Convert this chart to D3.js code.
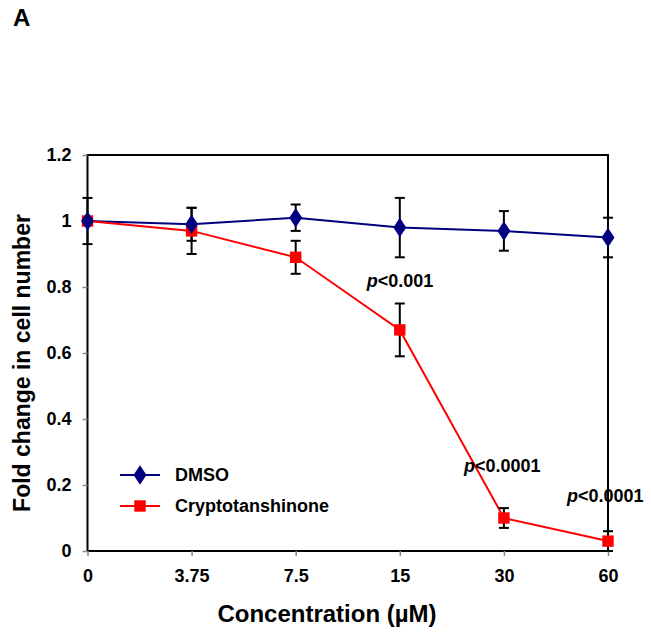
<!DOCTYPE html>
<html><head><meta charset="utf-8">
<script src="https://cdn.jsdelivr.net/npm/d3@7"></script>
<style>body{margin:0;background:#fff}svg{display:block}text{font-family:Arial,"Liberation Sans",sans-serif;font-weight:bold}</style>
</head><body><div id="c"></div>
<script>
const categories = ["0","3.75","7.5","15","30","60"];
const dmsoValues = [1.00,0.99,1.01,0.98,0.97,0.95];
const dmsoErrors = [0.07,0.05,0.04,0.09,0.06,0.06];
const cryptoValues = [1.00,0.97,0.89,0.67,0.10,0.03];
const cryptoErrors = [0.00,0.07,0.05,0.08,0.03,0.03];
const yTicks = [0,0.2,0.4,0.6,0.8,1,1.2];
const annotations = [
  {cat:"15", y:0.80, dx:-33, text:"<0.001"},
  {cat:"30", y:0.24, dx:-40, text:"<0.0001"},
  {cat:"60", y:0.148, dx:-41, text:"<0.0001"}
];
const series = [
  {name:"DMSO", values:dmsoValues, errors:dmsoErrors, color:"#000080", shape:"diamond"},
  {name:"Cryptotanshinone", values:cryptoValues, errors:cryptoErrors, color:"#ff0000", shape:"square"}
];

const W=651,H=634;
const m={left:87.5,right:43,top:155,bottom:83};
const svg=d3.select("#c").append("svg").attr("width",W).attr("height",H);
const x=d3.scalePoint().domain(categories).range([m.left,W-m.right]);
const y=d3.scaleLinear().domain([0,1.2]).range([H-m.bottom,m.top]);

svg.append("text").attr("x",13).attr("y",26).attr("font-size",24).text("A");

// frame
svg.append("rect").attr("x",m.left).attr("y",m.top).attr("width",W-m.right-m.left).attr("height",y(0)-m.top)
  .attr("fill","none").attr("stroke","#000").attr("stroke-width",2);

// y axis
const ya=svg.append("g").attr("transform",`translate(${m.left},0)`)
  .call(d3.axisLeft(y).tickValues(yTicks).tickFormat(d=>d3.format("")(d)).tickSize(5).tickPadding(11));
ya.select(".domain").remove();
ya.selectAll("line").attr("stroke","#888").attr("stroke-width",1.5);
ya.selectAll("text").attr("font-size",18).attr("fill","#000").attr("font-family","Arial, Liberation Sans, sans-serif").attr("font-weight","bold");

// x axis
const xa=svg.append("g").attr("transform",`translate(0,${y(0)})`)
  .call(d3.axisBottom(x).tickSize(5).tickPadding(13));
xa.select(".domain").remove();
xa.selectAll("line").attr("stroke","#888").attr("stroke-width",1.5);
xa.selectAll("text").attr("font-size",18).attr("fill","#000").attr("font-family","Arial, Liberation Sans, sans-serif").attr("font-weight","bold");

// titles
svg.append("text").attr("x",327).attr("y",622).attr("text-anchor","middle").attr("font-size",24).text("Concentration (µM)");
svg.append("text").attr("transform",`translate(30,363) rotate(-90)`).attr("text-anchor","middle").attr("font-size",23).text("Fold change in cell number");

// series
const line=d3.line().x((d,i)=>x(categories[i])).y(d=>y(d));
series.forEach(s=>{
  svg.append("path").datum(s.values).attr("d",line).attr("fill","none").attr("stroke",s.color).attr("stroke-width",2);
});
// error bars
series.forEach(s=>{
  const g=svg.append("g");
  s.values.forEach((v,i)=>{
    if(!s.errors[i]) return;
    const cx=x(categories[i]),t=y(v+s.errors[i]),b=y(v-s.errors[i]);
    g.append("line").attr("x1",cx).attr("x2",cx).attr("y1",t).attr("y2",b).attr("stroke","#000").attr("stroke-width",2);
    [t,b].forEach(yy=>g.append("line").attr("x1",cx-5).attr("x2",cx+5).attr("y1",yy).attr("y2",yy).attr("stroke","#000").attr("stroke-width",2));
  });
});
const sym={diamond:d3.symbol().type(d3.symbolDiamond).size(110),square:d3.symbol().type(d3.symbolSquare).size(130)};
function marker(g,s,cx,cy){
  const p=g.append("path").attr("d",sym[s.shape]()).attr("fill",s.color).attr("transform",`translate(${cx},${cy})`);
  if(s.shape==="diamond") p.attr("transform",`translate(${cx},${cy}) scale(1.15,1)`);
}
[series[1],series[0]].forEach(s=>{
  const g=svg.append("g");
  s.values.forEach((v,i)=>marker(g,s,x(categories[i]),y(v)));
});

// annotations
annotations.forEach(a=>{
  const t=svg.append("text").attr("x",x(a.cat)+a.dx).attr("y",y(a.y)).attr("font-size",18);
  t.append("tspan").attr("font-style","italic").text("p");
  t.append("tspan").text(a.text);
});

// legend
series.forEach((s,i)=>{
  const ly=475+i*31;
  svg.append("line").attr("x1",120).attr("x2",160).attr("y1",ly).attr("y2",ly).attr("stroke",s.color).attr("stroke-width",2);
  marker(svg,s,140,ly);
  svg.append("text").attr("x",175).attr("y",ly+6).attr("font-size",18).text(s.name);
});
</script></body></html>
